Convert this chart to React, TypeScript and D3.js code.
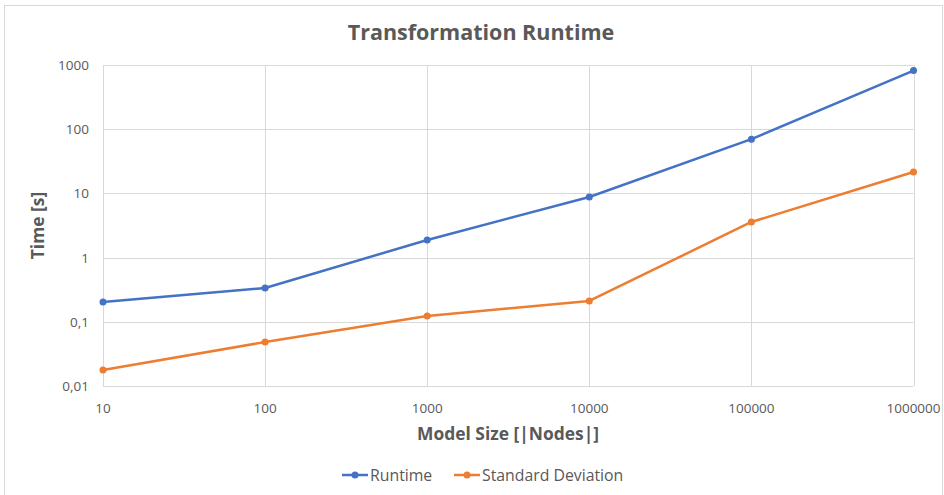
import React from "react";
import * as d3 from "d3";

const categories = [10, 100, 1000, 10000, 100000, 1000000];
const runtime = [0.203, 0.336, 1.88, 8.8, 70, 820];
const stdDev = [0.0177, 0.0484, 0.123, 0.211, 3.59, 21.5];
const yTicks = [0.01, 0.1, 1, 10, 100, 1000];
const yTickLabels = ["0,01", "0,1", "1", "10", "100", "1000"];
const xTickLabels = ["10", "100", "1000", "10000", "100000", "1000000"];

const W = 944;
const H = 495;
const left = 103;
const right = 913.5;
const top = 65;
const bottom = 386;
const FONT = "'Open Sans', sans-serif";
const TEXT = "#595959";

export default function App() {
  const x = d3.scaleLog().domain([10, 1000000]).range([left, right]);
  const y = d3.scaleLog().domain([0.01, 1000]).range([bottom, top]);
  const line = d3
    .line<number>()
    .x((_, i) => x(categories[i]))
    .y((d) => y(d));
  const series = [
    { name: "Runtime", values: runtime, color: "#4472C4" },
    { name: "Standard Deviation", values: stdDev, color: "#ED7D31" },
  ];
  const legend = [
    { x: 342, textX: 370 },
    { x: 454, textX: 482 },
  ];
  return (
    <div style={{ position: "fixed", left: 0, top: 0 }}>
      <svg width={W} height={H} style={{ display: "block" }}>
        <rect x={0} y={0} width={W} height={H} fill="#fff" />
        <rect x={4.5} y={5.5} width={938} height={495} fill="none" stroke="#d9d9d9" strokeWidth={1} />
        <text x={481} y={39.5} textAnchor="middle" fontFamily={FONT} fontWeight="bold" fontSize={21.5} fill={TEXT}>
          Transformation Runtime
        </text>
        {yTicks.map((t) => (
          <line key={"gy" + t} x1={left} x2={right} y1={Math.round(y(t)) + 0.5} y2={Math.round(y(t)) + 0.5} stroke="#d9d9d9" strokeWidth={1} />
        ))}
        {categories.map((c) => (
          <line key={"gx" + c} x1={Math.round(x(c)) + 0.5} x2={Math.round(x(c)) + 0.5} y1={top} y2={bottom} stroke="#d9d9d9" strokeWidth={1} />
        ))}
        {yTicks.map((t, i) => (
          <text key={"yl" + t} x={89} y={y(t) + 5} textAnchor="end" fontFamily={FONT} fontSize={13.5} fill={TEXT}>
            {yTickLabels[i]}
          </text>
        ))}
        {categories.map((c, i) => (
          <text key={"xl" + c} x={x(c)} y={413} textAnchor="middle" fontFamily={FONT} fontSize={13.5} fill={TEXT}>
            {xTickLabels[i]}
          </text>
        ))}
        <text
          transform={`translate(44, ${(top + bottom) / 2}) rotate(-90)`}
          textAnchor="middle"
          fontFamily={FONT}
          fontWeight="bold"
          fontSize={17.4}
          fill={TEXT}
        >
          Time [s]
        </text>
        <text x={508} y={440} textAnchor="middle" fontFamily={FONT} fontWeight="bold" fontSize={17.4} fill={TEXT}>
          Model Size [|Nodes|]
        </text>
        {series.map((s) => (
          <g key={s.name}>
            <path d={line(s.values) || ""} fill="none" stroke={s.color} strokeWidth={2.5} strokeLinejoin="round" />
            {s.values.map((v, i) => (
              <circle key={i} cx={x(categories[i])} cy={y(v)} r={3.5} fill={s.color} />
            ))}
          </g>
        ))}
        {series.map((s, i) => (
          <g key={"lg" + s.name}>
            <line x1={legend[i].x} x2={legend[i].x + 26} y1={475} y2={475} stroke={s.color} strokeWidth={2.5} />
            <circle cx={legend[i].x + 13} cy={475} r={3.5} fill={s.color} />
            <text x={legend[i].textX} y={480.5} fontFamily={FONT} fontSize={15.8} fill={TEXT}>
              {s.name}
            </text>
          </g>
        ))}
      </svg>
    </div>
  );
}
